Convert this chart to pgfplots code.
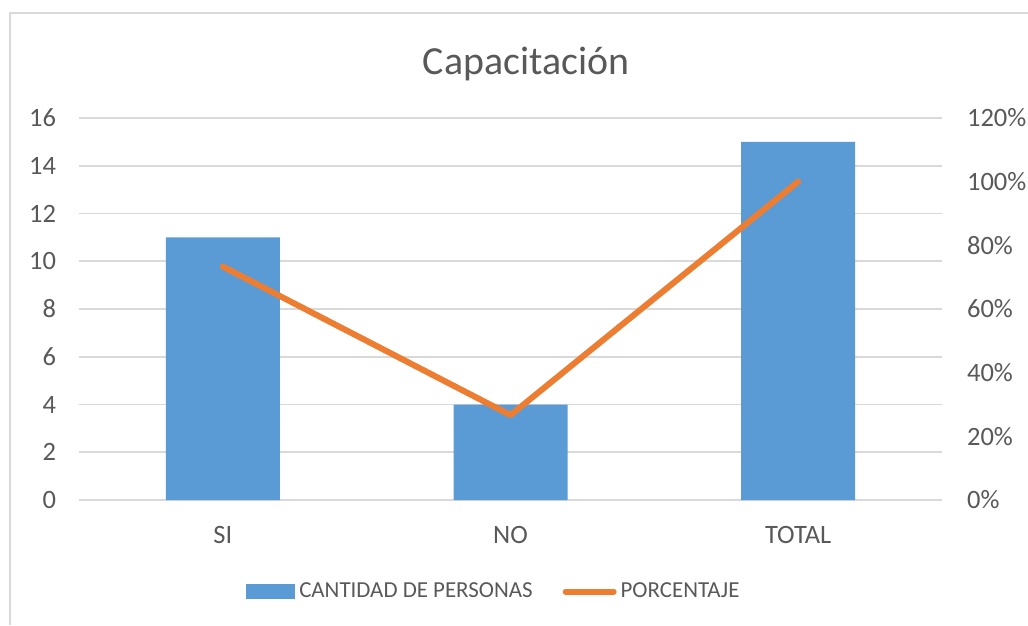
\documentclass[border=0pt]{standalone}
\usepackage{fontspec}
\setmainfont{Carlito}
\usepackage{pgfplots}
\pgfplotsset{compat=1.18}
\definecolor{barblue}{HTML}{5B9BD5}
\definecolor{lineorange}{HTML}{ED7D31}
\definecolor{txtgray}{HTML}{595959}
\definecolor{gridgray}{HTML}{D9D9D9}

\pgfplotsset{
  common/.style={
    at={(39.5bp,62.5bp)}, anchor=south west,
    scale only axis, width=431.5bp, height=191bp,
    xmin=-0.5, xmax=2.5,
    tick style={draw=none},
    ticklabel style={font=\fontsize{13.3}{15}\selectfont, text=txtgray},
    /pgf/number format/assume math mode=true,
  }
}

\begin{document}
\begin{tikzpicture}[x=1bp,y=1bp]
\useasboundingbox (0,0) rectangle (514,312.5);
\draw[gridgray, line width=1.2bp] (5,0) -- (5,306) -- (514,306);
\node[text=txtgray, font=\fontsize{20}{24}\selectfont] at (263,280.5) {Capacitación};

\begin{axis}[common,
    ymin=0, ymax=16, ytick={0,2,...,16},
    axis line style={draw=none},
    ymajorgrids, grid style={gridgray, line width=0.9bp},
    xtick={0,1,2}, xticklabels={SI,NO,TOTAL},
    xticklabel shift=9.5bp, yticklabel shift=8bp,
  ]
  \addplot[ybar, bar width=57bp, fill=barblue, draw=none] coordinates {(0,11) (1,4) (2,15)};
\end{axis}

\begin{axis}[common,
    ymin=0, ymax=1.2, ytick={0,0.2,...,1.2},
    yticklabels={0\%,20\%,40\%,60\%,80\%,100\%,120\%},
    axis y line*=right, hide x axis,
    axis line style={draw=none},
    yticklabel shift=9bp,
    legend style={at={(0.482,-0.2395)}, anchor=center, draw=none, fill=none,
      legend columns=2, font=\fontsize{11.5}{13}\selectfont, text=txtgray,
      /tikz/every even column/.append style={column sep=13bp}},
  ]
  \addlegendimage{legend image code/.code={\fill[barblue] (-1.5bp,-3.4bp) rectangle (22.5bp,3.4bp);}}
  \addlegendentry{CANTIDAD DE PERSONAS}
  \addplot[lineorange, line width=3bp, line cap=round, line join=round, mark=none,
    legend image code/.code={\draw[lineorange, line width=3bp, line cap=round] (1.5bp,0bp) -- (25.5bp,0bp);}]
    coordinates {(0,0.7333) (1,0.2667) (2,1.0)};
  \addlegendentry{PORCENTAJE}
\end{axis}
\end{tikzpicture}
\end{document}
